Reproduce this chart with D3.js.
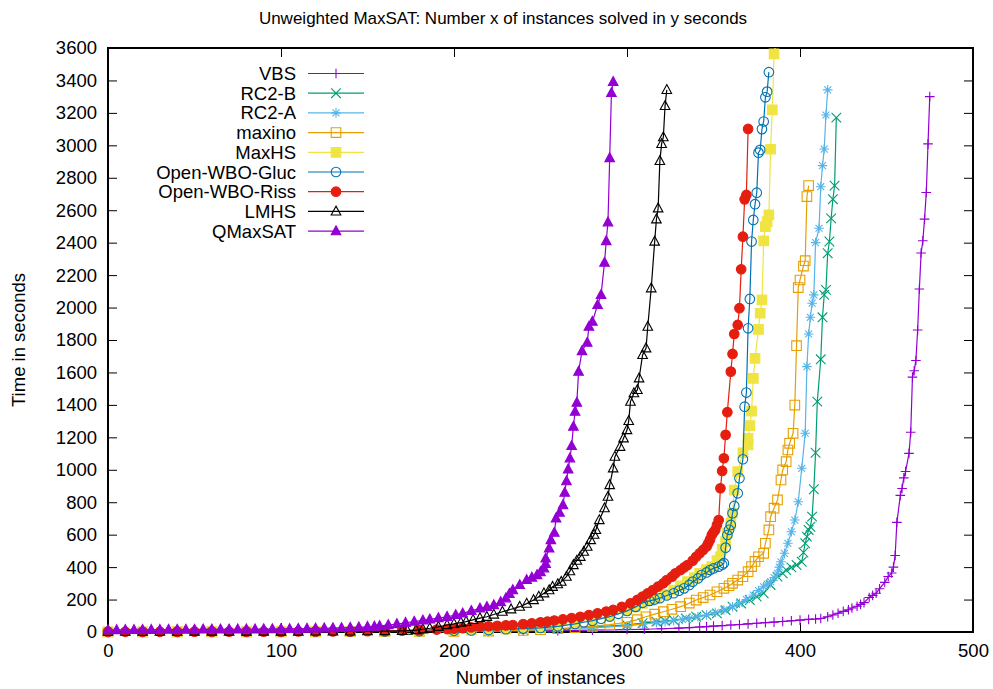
<!DOCTYPE html>
<html>
<head>
<meta charset="utf-8">
<script src="https://cdn.jsdelivr.net/npm/d3@7"></script>
<style>
  body { margin: 0; background: #fff; }
  svg { font-family: "Liberation Sans", Arial, Helvetica, sans-serif; }
</style>
</head>
<body>
<svg id="chart" width="993" height="689"></svg>
<script>
// [instances solved, seconds]
const vbs = [[0,0],[20,0],[40,0],[60,0],[80,1],[100,1],[120,1],[140,1],[160,2],[180,2],[200,3],[220,4],[240,6],[260,8],[280,11],[300,15],[310,17],[320,20],[330,24],[336,27],[342,31],[346,33],[350,36],[355,39],[360,43],[365,46],[370,50],[375,54],[380,58],[385,61],[390,65],[395,69],[400,73],[405,78],[409,80],[412,83],[416,94],[419,105],[422,116],[425,127],[428,137],[430,148],[433,159],[435,170],[437,181],[440,213],[442,226],[444,239],[446,267],[449,306],[451,342],[453,364],[454,400],[455,472],[456,676],[458,842],[459,885],[460,950],[461,989],[463,1101],[464,1231],[465,1571],[466,1610],[467,1674],[468,1862],[469,2114],[470,2336],[471,2412],[472,2545],[473,2709],[474,3009],[475,3300]];
const rc2b = [[0,0],[20,0],[40,0],[60,1],[80,1],[100,1],[120,1],[140,2],[160,2],[180,3],[200,5],[220,8],[240,13],[260,20],[280,30],[300,44],[309,55],[317,64],[322,69],[327,74],[334,84],[340,94],[346,104],[352,115],[357,135],[361,156],[366,176],[371,197],[375,218],[379,239],[383,290],[387,341],[390,362],[392,382],[395,398],[398,413],[401,433],[402,490],[403,547],[404,588],[405,629],[406,649],[407,711],[408,880],[409,1105],[410,1420],[412,1681],[413,1940],[414,2078],[415,2109],[416,2335],[417,2407],[418,2550],[419,2668],[420,2752],[421,3171]];
const rc2a = [[0,0],[20,0],[40,0],[60,1],[80,1],[100,1],[120,1],[140,2],[160,2],[180,3],[200,5],[220,8],[240,12],[260,18],[280,26],[300,38],[309,48],[317,57],[322,63],[327,70],[332,77],[336,84],[341,94],[346,105],[351,120],[356,136],[361,156],[365,177],[369,200],[373,228],[376,255],[379,279],[381,295],[383,310],[385,335],[387,362],[388,400],[389,433],[391,485],[393,547],[395,618],[397,690],[399,803],[401,1009],[403,1225],[404,1636],[405,1837],[406,1940],[407,2027],[408,2078],[409,2400],[411,2489],[412,2745],[413,2875],[414,2977],[415,3187],[416,3342]];
const maxino = [[0,0],[20,0],[40,1],[60,1],[80,1],[100,1],[120,1],[140,2],[160,2],[180,3],[200,4],[220,6],[240,10],[250,14],[260,20],[270,27],[280,35],[290,46],[300,60],[306,76],[311,94],[316,110],[321,125],[326,140],[331,156],[336,178],[340,197],[344,212],[348,228],[352,248],[356,269],[359,285],[361,300],[364,320],[367,341],[370,372],[372,403],[374,435],[376,464],[379,485],[380,547],[382,629],[383,711],[385,763],[387,814],[389,937],[390,999],[392,1050],[393,1122],[394,1163],[396,1225],[397,1399],[398,1765],[399,2123],[400,2170],[402,2256],[403,2289],[404,2684],[405,2752]];
const maxhs = [[0,1],[20,1],[40,1],[60,1],[80,1],[100,2],[120,2],[140,3],[160,4],[180,6],[200,9],[210,11],[220,14],[230,18],[240,23],[250,28],[260,38],[270,55],[280,75],[290,100],[300,135],[305,155],[309,177],[313,193],[317,208],[322,232],[327,259],[331,285],[335,310],[339,335],[342,362],[346,385],[349,403],[352,440],[354,464],[355,510],[357,557],[358,610],[360,670],[361,732],[362,875],[364,988],[367,1105],[370,1153],[370,1194],[371,1272],[372,1362],[373,1564],[374,1687],[376,1866],[377,1965],[378,2047],[379,2411],[380,2499],[381,2530],[382,2571],[383,2976],[384,3218],[385,3564],[386,3620]];
const openWboGluc = [[0,1],[20,1],[40,1],[60,1],[80,1],[100,1],[120,2],[140,2],[160,3],[180,5],[200,8],[210,10],[220,13],[230,17],[240,21],[250,25],[255,30],[260,35],[265,42],[270,50],[275,60],[280,70],[285,82],[290,95],[295,112],[300,130],[305,155],[309,180],[313,192],[316,200],[319,208],[323,225],[327,239],[330,255],[333,269],[336,290],[338,310],[341,330],[343,351],[346,367],[348,382],[350,392],[353,403],[355,415],[356,424],[357,520],[358,598],[359,630],[360,660],[361,732],[362,777],[364,855],[365,948],[367,1065],[368,1389],[369,1476],[370,1872],[371,2053],[372,2407],[373,2540],[374,2637],[375,2708],[376,2955],[377,2972],[378,3100],[379,3147],[380,3296],[381,3331],[382,3451]];
const openWboRiss = [[0,1],[10,1],[20,1],[30,1],[40,1],[50,2],[60,2],[70,2],[80,2],[90,2],[100,2],[110,3],[120,3],[130,3],[140,4],[150,5],[160,6],[170,8],[180,11],[190,15],[196,18],[200,20],[205,24],[210,28],[215,33],[220,35],[225,38],[230,41],[234,43],[240,49],[245,54],[250,60],[254,64],[258,71],[263,78],[268,86],[273,94],[278,104],[283,115],[288,126],[292,136],[297,155],[302,177],[306,198],[309,218],[312,238],[315,259],[318,280],[321,300],[323,320],[326,341],[328,362],[331,382],[333,398],[335,413],[338,440],[340,464],[342,485],[344,506],[346,527],[347,547],[348,570],[349,598],[350,615],[351,629],[352,660],[353,690],[354,886],[355,993],[356,1071],[357,1215],[358,1355],[360,1605],[361,1714],[362,1837],[364,1893],[365,1996],[366,2236],[367,2437],[368,2667],[369,2694],[370,3101]];
const lmhs = [[0,2],[10,2],[20,2],[30,2],[40,2],[50,3],[60,3],[70,3],[80,3],[90,3],[100,3],[110,3],[120,4],[130,4],[140,4],[150,5],[160,6],[170,7],[173,8],[178,12],[182,17],[186,23],[191,32],[196,43],[200,50],[204,58],[207,64],[211,75],[215,86],[219,94],[223,108],[228,125],[233,140],[238,156],[242,175],[246,197],[249,218],[252,239],[255,258],[257,279],[260,295],[262,310],[265,341],[267,375],[269,413],[271,440],[273,464],[275,495],[277,526],[279,567],[281,600],[282,629],[284,690],[287,763],[289,834],[290,906],[292,1009],[293,1081],[296,1142],[298,1194],[300,1245],[301,1301],[302,1420],[304,1472],[306,1492],[307,1564],[309,1708],[311,1749],[312,1882],[314,2119],[316,2407],[317,2544],[318,2612],[319,2904],[320,3009],[321,3050],[322,3243],[323,3342]];
const qmaxsat = [[0,12],[5,12],[10,13],[15,13],[20,14],[25,14],[30,14],[35,15],[40,15],[45,15],[50,15],[55,16],[60,16],[65,16],[70,16],[75,17],[80,17],[85,17],[90,18],[95,18],[100,19],[105,19],[110,20],[115,21],[120,22],[125,23],[130,24],[135,25],[140,27],[145,29],[150,32],[154,34],[157,37],[162,43],[167,49],[172,57],[177,64],[182,72],[186,78],[191,86],[196,94],[201,105],[205,115],[210,130],[215,146],[219,155],[223,166],[227,185],[230,208],[232,235],[234,259],[238,290],[242,321],[245,336],[248,351],[250,370],[252,393],[253,420],[253,454],[255,516],[256,567],[258,612],[259,701],[261,736],[263,783],[264,859],[265,930],[266,1003],[267,1071],[268,1147],[269,1266],[270,1358],[271,1414],[272,1605],[274,1732],[277,1784],[278,1882],[280,1913],[283,2016],[285,2078],[287,2277],[288,2410],[289,2526],[290,2922],[291,3323],[292,3391]];

const seriesNames = ['VBS', 'RC2-B', 'RC2-A', 'maxino', 'MaxHS', 'Open-WBO-Gluc', 'Open-WBO-Riss', 'LMHS', 'QMaxSAT'];
const seriesData = [vbs, rc2b, rc2a, maxino, maxhs, openWboGluc, openWboRiss, lmhs, qmaxsat];
const seriesColors = ['#9400d3', '#009e73', '#56b4e9', '#e69f00', '#f0e442', '#0072b2', '#e51e10', '#000000', '#9400d3'];
const seriesShapes = ['plus', 'cross', 'star', 'square', 'squareFilled', 'circle', 'circleFilled', 'triangle', 'triangleFilled'];

const xTicks = [0, 100, 200, 300, 400, 500];
const yTicks = [0, 200, 400, 600, 800, 1000, 1200, 1400, 1600, 1800, 2000, 2200, 2400, 2600, 2800, 3000, 3200, 3400, 3600];

const margin = { top: 48, right: 20, bottom: 57, left: 108 };
const width = 993 - margin.left - margin.right;
const height = 689 - margin.top - margin.bottom;

const svg = d3.select('#chart');
const ctx = svg.append('g').attr('transform', `translate(${margin.left},${margin.top})`);

const xScale = d3.scaleLinear().domain([0, 500]).range([0, width]);
const yScale = d3.scaleLinear().domain([0, 3600]).range([height, 0]);

// axes, ticks pointing inwards like gnuplot
const axisFont = 18.5;
const plain = d3.format('d');
ctx.append('g').attr('transform', `translate(0,${height})`)
    .call(d3.axisBottom(xScale).tickValues(xTicks).tickFormat(plain).tickSize(-9).tickPadding(12));
ctx.append('g')
    .call(d3.axisLeft(yScale).tickValues(yTicks).tickFormat(plain).tickSize(-9).tickPadding(11));
ctx.append('g').attr('transform', `translate(${width},0)`)
    .call(d3.axisRight(yScale).tickValues(yTicks).tickSize(-9).tickFormat(''));
ctx.append('g')
    .call(d3.axisTop(xScale).tickValues(xTicks).tickSize(-9).tickFormat(''));

ctx.selectAll('.domain').remove();
ctx.selectAll('.tick line').attr('stroke', '#000').attr('stroke-width', 1);
ctx.selectAll('.tick text')
    .attr('font-family', '"Liberation Sans", Arial, sans-serif')
    .attr('font-size', axisFont)
    .attr('fill', '#000');

// frame
ctx.append('rect')
    .attr('width', width).attr('height', height)
    .attr('fill', 'none').attr('stroke', '#000').attr('stroke-width', 2);

// titles
svg.append('text')
    .attr('x', 503).attr('y', 24)
    .attr('text-anchor', 'middle').attr('font-size', 17)
    .text('Unweighted MaxSAT: Number x of instances solved in y seconds');

svg.append('text')
    .attr('x', margin.left + width / 2).attr('y', 684)
    .attr('text-anchor', 'middle').attr('font-size', 18.5)
    .text('Number of instances');

svg.append('text')
    .attr('transform', `translate(25,${margin.top + height / 2}) rotate(-90)`)
    .attr('text-anchor', 'middle').attr('font-size', 18.5)
    .text('Time in seconds');

// marker paths
function markerPath(shape, r) {
    switch (shape) {
        case 'plus': return `M${-r},0H${r}M0,${-r}V${r}`;
        case 'cross': return `M${-r},${-r}L${r},${r}M${-r},${r}L${r},${-r}`;
        case 'star': return `M${-r},0H${r}M0,${-r}V${r}M${-r * 0.72},${-r * 0.72}L${r * 0.72},${r * 0.72}M${-r * 0.72},${r * 0.72}L${r * 0.72},${-r * 0.72}`;
        case 'square':
        case 'squareFilled': return `M${-r},${-r}H${r}V${r}H${-r}Z`;
        case 'circle':
        case 'circleFilled': return d3.symbol(d3.symbolCircle, Math.PI * r * r)();
        default: return `M0,${-r * 1.1}L${r},${r * 0.75}H${-r}Z`;
    }
}
const filled = s => s.endsWith('Filled');

svg.append('defs').append('clipPath').attr('id', 'plotClip')
    .append('rect').attr('width', width).attr('height', height);

const line = d3.line()
    .x(d => xScale(d[0]))
    .y(d => yScale(d[1]));

const plot = ctx.append('g');
seriesData.forEach((data, i) => {
    const color = seriesColors[i];
    const shape = seriesShapes[i];
    const g = plot.append('g');
    g.append('path')
        .datum(data)
        .attr('clip-path', 'url(#plotClip)')
        .attr('d', line)
        .attr('fill', 'none')
        .attr('stroke', color)
        .attr('stroke-width', 1.2);
    g.selectAll('path.pt')
        .data(data.filter(d => d[1] <= 3600))
        .join('path')
        .attr('class', 'pt')
        .attr('transform', d => `translate(${xScale(d[0])},${yScale(d[1])})`)
        .attr('d', markerPath(shape, 4.8))
        .attr('fill', filled(shape) ? color : 'none')
        .attr('stroke', color)
        .attr('stroke-width', 1.1);
});

// legend
const legend = svg.append('g');
seriesNames.forEach((name, i) => {
    const yy = 73.5 + i * 19.7;
    legend.append('text')
        .attr('x', 296).attr('y', yy + 6.5)
        .attr('text-anchor', 'end').attr('font-size', 18.5)
        .text(name);
    legend.append('line')
        .attr('x1', 308).attr('x2', 364).attr('y1', yy).attr('y2', yy)
        .attr('stroke', seriesColors[i]).attr('stroke-width', 1.2);
    legend.append('path')
        .attr('transform', `translate(336,${yy})`)
        .attr('d', markerPath(seriesShapes[i], 4.8))
        .attr('fill', filled(seriesShapes[i]) ? seriesColors[i] : 'none')
        .attr('stroke', seriesColors[i])
        .attr('stroke-width', 1.1);
});
</script>
</body>
</html>
